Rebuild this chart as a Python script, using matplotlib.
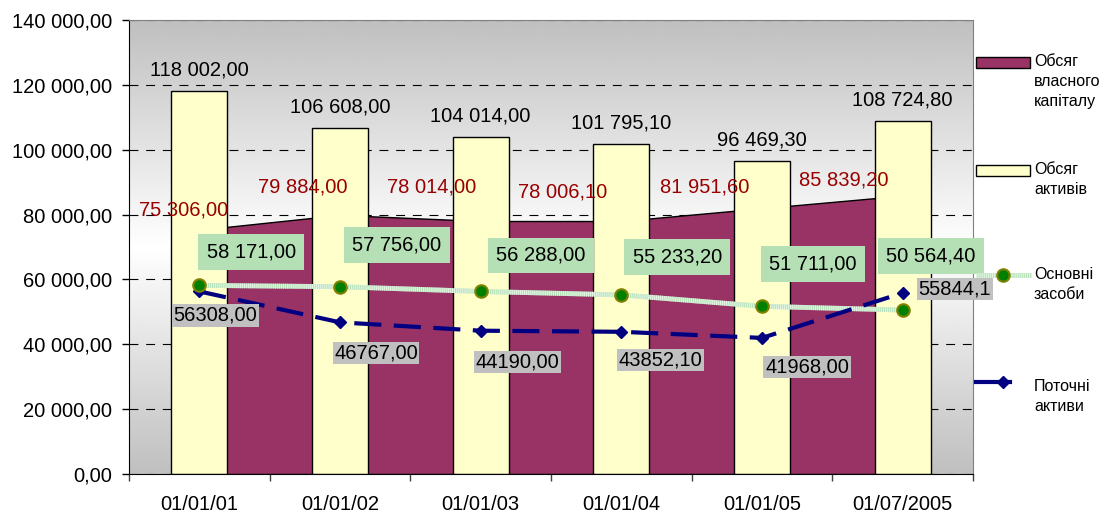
import numpy as np
import matplotlib
matplotlib.use('Agg')
import matplotlib.pyplot as plt
from matplotlib.patches import Rectangle
from matplotlib.ticker import FuncFormatter

dates = ['01/01/01', '01/01/02', '01/01/03', '01/01/04', '01/01/05', '01/07/2005']
assets = [118002.00, 106608.00, 104014.00, 101795.10, 96469.30, 108724.80]
equity = [75306.00, 79884.00, 78014.00, 78006.10, 81951.60, 85839.20]
fixed_assets = [58171.00, 57756.00, 56288.00, 55233.20, 51711.00, 50564.40]
current_assets = [56308.00, 46767.00, 44190.00, 43852.10, 41968.00, 55844.10]
current_labels = ['56308,00', '46767,00', '44190,00', '43852,10', '41968,00', '55844,1']
legend_names = ['Обсяг\nвласного\nкапіталу', 'Обсяг\nактивів', 'Основні\nзасоби', 'Поточні\nактиви']

# hand placed label offsets in pixels (dx, dy)
equity_off = [(-16, 20), (-37, 28), (-49, 34), (-59, 29), (-57, 21), (-59, 16)]
fixed_off = [(52, 33), (57, 42), (60, 36), (56, 38), (51, 42), (28, 54)]
current_off = [(16, -24), (36, -31), (37, -31), (39, -28), (45, -29), (52, 4)]

MAROON = '#993366'
YELLOW = '#ffffcc'
NAVY = '#000080'
FS = 14.5

plt.rcParams['font.family'] = ['Liberation Sans', 'DejaVu Sans']


def fmt(v, pos=None):
	return '{:,.2f}'.format(v).replace(',', ' ').replace('.', ',')


def main():
	fig = plt.figure(figsize=(11.1, 5.16), dpi=100)
	ax = fig.add_axes([129 / 1110, 1 - 474 / 516, (973 - 129) / 1110, (474 - 20) / 516])
	x = np.arange(len(dates))

	# gray -> white -> gray background
	t = np.linspace(0, 1, 256)
	v = 1 - 0.25 * np.abs(t - 0.5) * 2
	grad = np.repeat(v[:, None], 2, axis=1)
	ax.imshow(grad, extent=[0, 1, 0, 1], transform=ax.transAxes, aspect='auto',
		cmap='gray', vmin=0, vmax=1, zorder=0)

	ax.set_axisbelow(True)
	ax.yaxis.grid(True, color='black', lw=0.8, linestyle=(0, (8, 7)))

	ax.fill_between(x, equity, 0, facecolor=MAROON, edgecolor='black', lw=1, zorder=1)
	ax.bar(x, assets, width=0.4, color=YELLOW, edgecolor='black', lw=1, zorder=2)

	ax.plot(x, fixed_assets, color='#b4e0b8', lw=3.5, zorder=3, solid_capstyle='butt')
	ax.plot(x, fixed_assets, color='#e6f7e6', lw=3.5, dashes=(0.2, 0.2), zorder=3.1)
	ax.plot(x, fixed_assets, ls='none', marker='o', ms=9, mfc='#008000', mec='#808000',
		mew=1.5, zorder=3.3)
	ax.plot(x, current_assets, color=NAVY, lw=3, dashes=(6.5, 3), marker='D', ms=6,
		zorder=3.2)

	for i in range(len(x)):
		ax.annotate(fmt(assets[i]), (x[i], assets[i]), xytext=(0, 21), textcoords='offset pixels',
			ha='center', va='center', fontsize=FS, color='black', zorder=5)
		ax.annotate(fmt(equity[i]), (x[i], equity[i]), xytext=equity_off[i], textcoords='offset pixels',
			ha='center', va='center', fontsize=FS, color='#990000', zorder=5)
		ax.annotate(fmt(fixed_assets[i]), (x[i], fixed_assets[i]), xytext=fixed_off[i],
			textcoords='offset pixels', ha='center', va='center', fontsize=FS, color='black',
			bbox=dict(boxstyle='square,pad=0.42', fc='#b5dfb5', ec='none'), zorder=5)
		ax.annotate(current_labels[i], (x[i], current_assets[i]), xytext=current_off[i],
			textcoords='offset pixels', ha='center', va='center', fontsize=FS, color='black',
			bbox=dict(boxstyle='square,pad=0.08', fc='#c0c0c0', ec='none'), zorder=5)

	ax.set_xlim(-0.5, len(x) - 0.5)
	ax.set_ylim(0, 140000)
	ax.set_yticks(np.arange(0, 140001, 20000))
	ax.yaxis.set_major_formatter(FuncFormatter(fmt))
	ax.tick_params(axis='y', length=5, width=1, pad=7, labelsize=FS)
	ax.set_xticks(x)
	ax.set_xticklabels(dates)
	ax.set_xticks(np.arange(-0.5, len(x), 1), minor=True)
	ax.tick_params(axis='x', which='major', length=0, pad=15, labelsize=FS)
	ax.tick_params(axis='x', which='minor', length=5, width=1, color='#404040')

	for s in ['top', 'right']:
		ax.spines[s].set_color('#808080')
	for s in ['left', 'bottom']:
		ax.spines[s].set_color('black')

	# legend, drawn in figure pixels
	lax = fig.add_axes([0, 0, 1, 1])
	lax.set_xlim(0, 1110)
	lax.set_ylim(516, 0)
	lax.axis('off')
	lax.patch.set_visible(False)
	lax.add_patch(Rectangle((976, 57), 54, 11, fc=MAROON, ec='black', lw=1))
	lax.add_patch(Rectangle((976, 164.5), 54, 11, fc=YELLOW, ec='black', lw=1))
	lax.plot([976, 1031], [275, 275], color='#b4e0b8', lw=3.5, solid_capstyle='butt')
	lax.plot([976, 1031], [275, 275], color='#e6f7e6', lw=3.5, dashes=(0.2, 0.2))
	lax.plot([1003], [275], marker='o', ms=9, mfc='#008000', mec='#808000', mew=1.5)
	lax.plot([976, 1010], [382, 382], color=NAVY, lw=3)
	lax.plot([1003], [382], marker='D', ms=6, color=NAVY)
	tops = [54, 162, 267, 379]
	for name, top in zip(legend_names, tops):
		lax.text(1034, top, name, ha='left', va='top', fontsize=11.5, linespacing=1.4,
			family=['Liberation Sans Narrow', 'Liberation Sans', 'DejaVu Sans'])

	plt.savefig('out.png', dpi=100)


if __name__ == '__main__':
	main()
